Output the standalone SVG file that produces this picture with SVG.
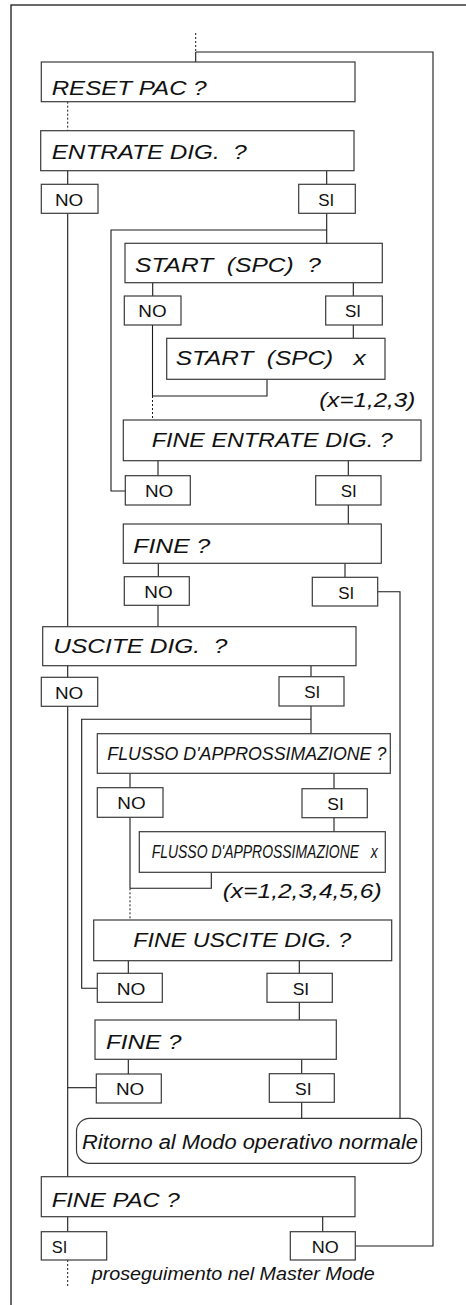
<svg xmlns="http://www.w3.org/2000/svg" width="466" height="1305" viewBox="0 0 466 1305">
<style>
.bx{fill:#fff;stroke:#3a3a3a;stroke-width:1.2}
.ln{fill:none;stroke:#1a1a1a;stroke-width:1.1}
.ds{fill:none;stroke:#1a1a1a;stroke-width:1;stroke-dasharray:2 2}
.t{font-family:"Liberation Sans",Arial,sans-serif;font-style:italic;font-size:20px;fill:#111;white-space:pre}
.f{font-family:"Liberation Sans",Arial,sans-serif;font-style:italic;font-size:18px;fill:#111;white-space:pre}
.l{font-family:"Liberation Sans",Arial,sans-serif;font-size:17px;fill:#111;white-space:pre}
</style>
<rect x="11" y="5" width="470" height="1310" fill="#fff" stroke="#1a1a1a" stroke-width="1.3"/>
<g id="connectors">
<path class="ds" d="M195.7 33V52"/>
<path class="ln" d="M195.7 52V62"/>
<path class="ln" d="M355.3 1246H433V52H195.7"/>
<path class="ds" d="M67.7 101.7V130.7"/>
<path class="ln" d="M67.7 170.7V184.3M326.7 170.7V184.3"/>
<path class="ln" d="M67.7 213.3V626.7"/>
<path class="ln" d="M326.7 213.3V243.3"/>
<path class="ln" d="M326.7 230H111V491H125.3"/>
<path class="ln" d="M152.7 282.7V296M353.3 282.7V296"/>
<path class="ln" d="M152.5 325V396"/>
<path class="ds" d="M152.5 396V420"/>
<path class="ln" d="M353.3 325V338.3"/>
<path class="ln" d="M267 379.3V396H152.5"/>
<path class="ln" d="M158 460.7V475.7M348.3 460.7V475.7"/>
<path class="ln" d="M348.3 505V524"/>
<path class="ln" d="M158.3 563.3V576.7M345 563.3V577.3"/>
<path class="ln" d="M377.7 591.7H400V1118.3"/>
<path class="ln" d="M158 605.3V626.7"/>
<path class="ln" d="M67.7 665.7V677.3M311 665.7V676.7"/>
<path class="ln" d="M67.7 706.3V1176.7"/>
<path class="ln" d="M311 706V733.7"/>
<path class="ln" d="M311 719.3H81.7V988.3H97.3"/>
<path class="ln" d="M130 773.3V787.7M334 773.3V788.7"/>
<path class="ln" d="M130 817.3V888.3"/>
<path class="ds" d="M130 888.3V920"/>
<path class="ln" d="M334 817.7V831.7"/>
<path class="ln" d="M211.3 872.3V888.3H130"/>
<path class="ln" d="M128.3 960.7V973.3M299.3 960.7V973.3"/>
<path class="ln" d="M299.3 1002.3V1020"/>
<path class="ln" d="M128.3 1059.3V1074M301.7 1059.3V1073.7"/>
<path class="ln" d="M96.3 1087.7H67.7"/>
<path class="ln" d="M301.7 1102.3V1118.3"/>
<path class="ln" d="M67.7 1216.7V1231.7M322.7 1216.7V1231.7"/>
<path class="ds" d="M67.7 1260V1287"/>
</g>
<g id="reset-pac"><rect class="bx" x="41.3" y="62" width="313.7" height="39.7"/><text class="t" x="51.7" y="94.5" textLength="155" lengthAdjust="spacingAndGlyphs">RESET PAC ?</text></g>
<g id="entrate-dig"><rect class="bx" x="40.7" y="130.7" width="313.3" height="40"/><text class="t" x="51.7" y="158.5" textLength="195" lengthAdjust="spacingAndGlyphs">ENTRATE DIG.  ?</text></g>
<g id="entrate-no"><rect class="bx" x="41.3" y="184.3" width="56.7" height="29"/><text class="l" x="55" y="205.7" textLength="28.3" lengthAdjust="spacingAndGlyphs">NO</text></g>
<g id="entrate-si"><rect class="bx" x="298.7" y="184.3" width="56.6" height="29"/><text class="l" x="318.3" y="205.7" textLength="16" lengthAdjust="spacingAndGlyphs">SI</text></g>
<g id="start-spc"><rect class="bx" x="125" y="243.3" width="257.3" height="39.4"/><text class="t" x="135" y="271.5" textLength="186" lengthAdjust="spacingAndGlyphs">START  (SPC)  ?</text></g>
<g id="start-no"><rect class="bx" x="124.3" y="296" width="56.7" height="29"/><text class="l" x="138.3" y="317.4" textLength="28.3" lengthAdjust="spacingAndGlyphs">NO</text></g>
<g id="start-si"><rect class="bx" x="325.7" y="296" width="56.6" height="29"/><text class="l" x="345" y="317.4" textLength="16" lengthAdjust="spacingAndGlyphs">SI</text></g>
<g id="start-spc-x"><rect class="bx" x="166.7" y="338.3" width="218.3" height="41"/><text class="t" x="175.7" y="365" textLength="190" lengthAdjust="spacingAndGlyphs">START  (SPC)   x</text></g>
<g id="note-x3"><text class="t" x="319.3" y="406.5" textLength="96" lengthAdjust="spacingAndGlyphs">(x=1,2,3)</text></g>
<g id="fine-entrate"><rect class="bx" x="123.3" y="420" width="297.7" height="40.7"/><text class="t" x="151.7" y="446.7" textLength="241" lengthAdjust="spacingAndGlyphs">FINE ENTRATE DIG. ?</text></g>
<g id="fine-entrate-no"><rect class="bx" x="125.3" y="475.7" width="65" height="29.3"/><text class="l" x="145" y="497.2" textLength="28.3" lengthAdjust="spacingAndGlyphs">NO</text></g>
<g id="fine-entrate-si"><rect class="bx" x="315.7" y="475.7" width="65.3" height="29.3"/><text class="l" x="340.7" y="497.2" textLength="16" lengthAdjust="spacingAndGlyphs">SI</text></g>
<g id="fine-1"><rect class="bx" x="123.3" y="524" width="258" height="39.3"/><text class="t" x="133.3" y="552.5" textLength="77" lengthAdjust="spacingAndGlyphs">FINE ?</text></g>
<g id="fine-1-no"><rect class="bx" x="124.3" y="576.7" width="65" height="28.6"/><text class="l" x="144.3" y="598" textLength="28.3" lengthAdjust="spacingAndGlyphs">NO</text></g>
<g id="fine-1-si"><rect class="bx" x="312.3" y="577.3" width="65.4" height="28.7"/><text class="l" x="338.3" y="598.6" textLength="16" lengthAdjust="spacingAndGlyphs">SI</text></g>
<g id="uscite-dig"><rect class="bx" x="42.7" y="626.7" width="313.3" height="39"/><text class="t" x="53.3" y="653" textLength="174" lengthAdjust="spacingAndGlyphs">USCITE DIG.  ?</text></g>
<g id="uscite-no"><rect class="bx" x="41.3" y="677.3" width="56.4" height="29"/><text class="l" x="55" y="698.7" textLength="28.3" lengthAdjust="spacingAndGlyphs">NO</text></g>
<g id="uscite-si"><rect class="bx" x="279" y="676.7" width="65" height="29.3"/><text class="l" x="304.3" y="698.2" textLength="16" lengthAdjust="spacingAndGlyphs">SI</text></g>
<g id="flusso"><rect class="bx" x="97.3" y="733.7" width="293" height="39.6"/><text class="f" x="107.3" y="760" textLength="279" lengthAdjust="spacingAndGlyphs">FLUSSO D'APPROSSIMAZIONE ?</text></g>
<g id="flusso-no"><rect class="bx" x="97.3" y="787.7" width="65.7" height="29.6"/><text class="l" x="117.3" y="809.2" textLength="28.3" lengthAdjust="spacingAndGlyphs">NO</text></g>
<g id="flusso-si"><rect class="bx" x="302" y="788.7" width="65.3" height="29"/><text class="l" x="327.3" y="810" textLength="16.5" lengthAdjust="spacingAndGlyphs">SI</text></g>
<g id="flusso-x"><rect class="bx" x="139.3" y="831.7" width="246" height="40.6"/><text class="f" x="151.7" y="858.3" textLength="226" lengthAdjust="spacingAndGlyphs">FLUSSO D'APPROSSIMAZIONE   x</text></g>
<g id="note-x6"><text class="t" x="222.7" y="898" textLength="159" lengthAdjust="spacingAndGlyphs">(x=1,2,3,4,5,6)</text></g>
<g id="fine-uscite"><rect class="bx" x="93.7" y="920" width="298" height="40.7"/><text class="t" x="133.3" y="946.5" textLength="218" lengthAdjust="spacingAndGlyphs">FINE USCITE DIG. ?</text></g>
<g id="fine-uscite-no"><rect class="bx" x="97.3" y="973.3" width="65" height="29"/><text class="l" x="116.7" y="994.7" textLength="28.7" lengthAdjust="spacingAndGlyphs">NO</text></g>
<g id="fine-uscite-si"><rect class="bx" x="267" y="973.3" width="65.3" height="29"/><text class="l" x="292.7" y="994.7" textLength="16.5" lengthAdjust="spacingAndGlyphs">SI</text></g>
<g id="fine-2"><rect class="bx" x="95" y="1020" width="241.3" height="39.3"/><text class="t" x="106" y="1049" textLength="75.5" lengthAdjust="spacingAndGlyphs">FINE ?</text></g>
<g id="fine-2-no"><rect class="bx" x="96.3" y="1074" width="65" height="29"/><text class="l" x="116" y="1095.4" textLength="28.3" lengthAdjust="spacingAndGlyphs">NO</text></g>
<g id="fine-2-si"><rect class="bx" x="269.3" y="1073.7" width="65" height="28.6"/><text class="l" x="295" y="1095" textLength="16.5" lengthAdjust="spacingAndGlyphs">SI</text></g>
<g id="ritorno"><rect class="bx" x="76.5" y="1118.3" width="345" height="45" rx="13" ry="13"/><text class="t" x="82" y="1148.5" textLength="336" lengthAdjust="spacingAndGlyphs">Ritorno al Modo operativo normale</text></g>
<g id="fine-pac"><rect class="bx" x="41.3" y="1176.7" width="313.7" height="40"/><text class="t" x="51.7" y="1206.5" textLength="128" lengthAdjust="spacingAndGlyphs">FINE PAC ?</text></g>
<g id="fine-pac-si"><rect class="bx" x="41.3" y="1231.7" width="65.4" height="28.3"/><text class="l" x="51.7" y="1252.8" textLength="15.5" lengthAdjust="spacingAndGlyphs">SI</text></g>
<g id="fine-pac-no"><rect class="bx" x="290.3" y="1231.7" width="65" height="28.3"/><text class="l" x="311.7" y="1252.8" textLength="27" lengthAdjust="spacingAndGlyphs">NO</text></g>
<g id="note-master"><text class="f" x="91.7" y="1280" textLength="283" lengthAdjust="spacingAndGlyphs">proseguimento nel Master Mode</text></g>
</svg>
